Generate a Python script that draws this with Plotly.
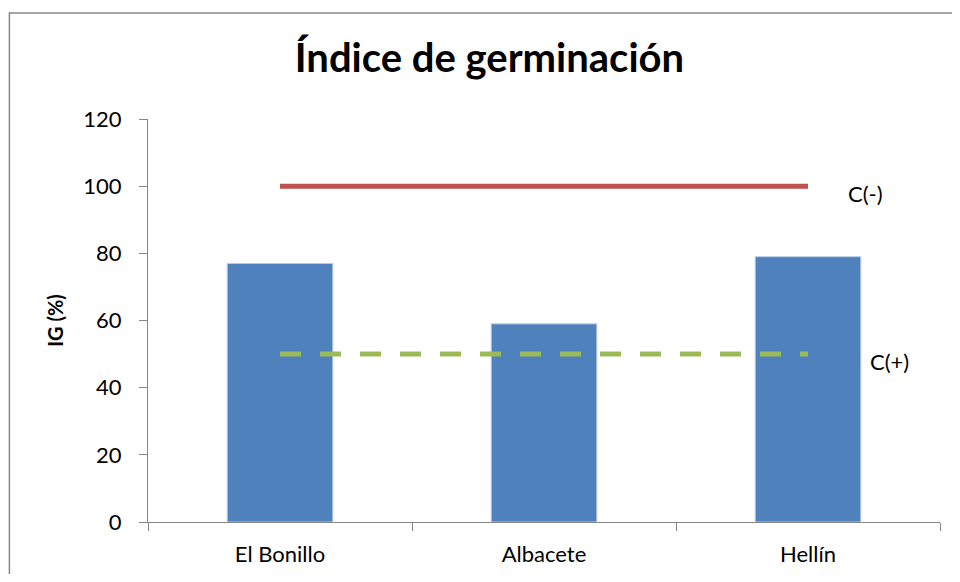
import plotly.graph_objects as go

categories = ["El Bonillo", "Albacete", "Hellín"]
ig_values = [77, 59, 79]
control_neg = [100, 100, 100]
control_pos = [50, 50, 50]
y_ticks = [0, 20, 40, 60, 80, 100, 120]

FONT = "Lato"
AXIS = "#868686"

fig = go.Figure()
fig.add_trace(go.Bar(x=categories, y=ig_values, marker=dict(color="#4F81BD", line=dict(color="#B9CDE5", width=1)),
                     name="IG", showlegend=False))
fig.add_trace(go.Scatter(x=categories, y=control_neg, mode="lines",
                         line=dict(color="#C0504D", width=5), showlegend=False, name="C(-)"))
fig.add_trace(go.Scatter(x=categories, y=control_pos, mode="lines",
                         line=dict(color="#9BBB59", width=5, dash="21px,19px"), showlegend=False, name="C(+)"))

fig.add_annotation(x=categories[-1], y=control_neg[-1], xref="x", yref="y", text="C(-)", showarrow=False,
                   xanchor="left", xshift=38, yshift=-7, font=dict(family=FONT, size=22, color="black"))
fig.add_annotation(x=categories[-1], y=control_pos[-1], xref="x", yref="y", text="C(+)", showarrow=False,
                   xanchor="left", xshift=60, yshift=-7, font=dict(family=FONT, size=22, color="black"))

# outer chart border (right and bottom edges lie outside the visible area)
fig.add_shape(type="rect", xref="paper", yref="paper", x0=-0.175, x1=1.2, y0=-0.3, y1=1.263,
              line=dict(color="#888888", width=1.5), fillcolor="rgba(0,0,0,0)", layer="below")

fig.update_layout(
    width=944, height=566,
    margin=dict(l=139.5, r=12, t=111, b=52),
    paper_bgcolor="white", plot_bgcolor="white",
    bargap=0.6,
    title=dict(text="<b>Índice de germinación</b>", x=0.51, xanchor="center", y=0.911, yanchor="middle",
               font=dict(family=FONT, size=40, color="black")),
    font=dict(family=FONT, size=22, color="black"),
    xaxis=dict(showline=True, linecolor=AXIS, linewidth=1.3, ticks="outside", tickson="boundaries",
               ticklen=8, tickcolor=AXIS, tickwidth=1.3, showgrid=False, zeroline=False,
               ticklabelstandoff=12, automargin=False,
               tickfont=dict(family=FONT, size=22, color="black")),
    yaxis=dict(range=[0, 120], tickvals=y_ticks, showline=True, linecolor=AXIS, linewidth=1.3,
               ticks="outside", ticklen=8, tickcolor=AXIS, tickwidth=1.3, showgrid=False, zeroline=False,
               ticklabelstandoff=13,
               tickfont=dict(family=FONT, size=22, color="black"),
               title=dict(text="<b>IG (%)</b>", font=dict(family=FONT, size=20, color="black"), standoff=14)),
)

fig.write_html("out.html")
